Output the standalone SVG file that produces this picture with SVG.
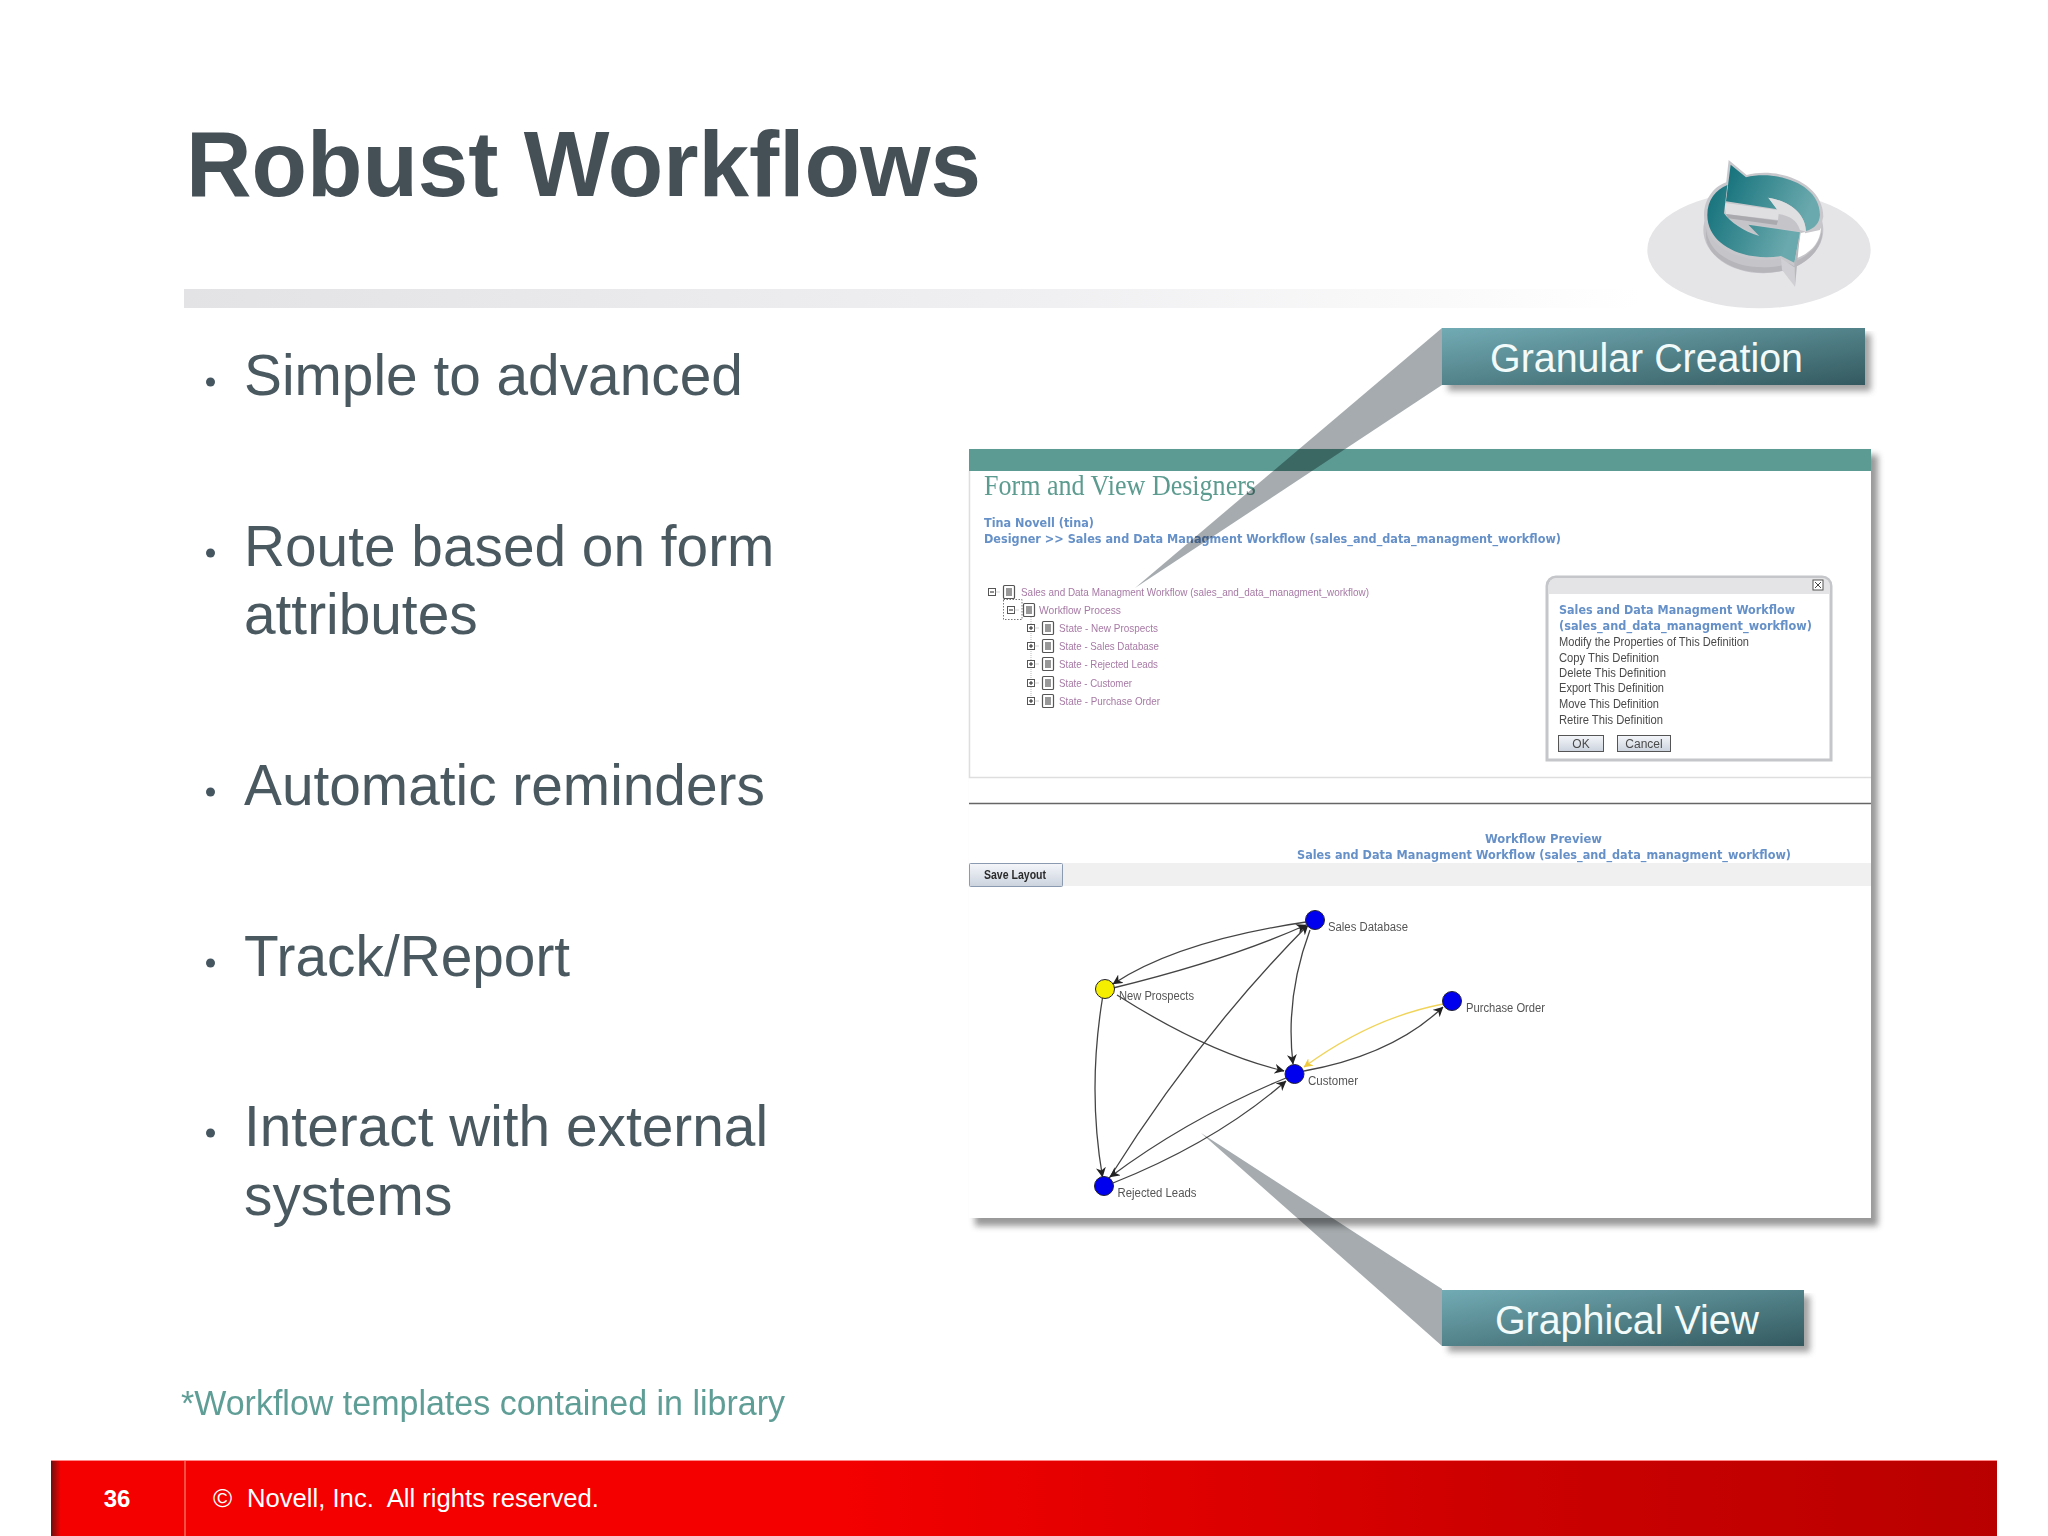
<svg xmlns="http://www.w3.org/2000/svg" width="2048" height="1536" viewBox="0 0 2048 1536">
<style>
.sans{font-family:"Liberation Sans",Arial,sans-serif}
.bul{font-family:"Liberation Sans",Arial,sans-serif;font-size:56.8px;fill:#4a5860}
.blue{font-family:"DejaVu Sans","Liberation Sans",sans-serif;font-weight:bold;font-size:12.5px;fill:#6590c8}
.tree{font-family:"Liberation Sans",sans-serif;font-size:11.5px;fill:#a77aa5}
.menu{font-family:"Liberation Sans",sans-serif;font-size:12px;fill:#4a4a4a}
.graph{font-family:"Liberation Sans",sans-serif;font-size:12px;fill:#555}
.call{font-family:"Liberation Sans",sans-serif;font-size:40px;fill:#f2fafa}
.e{fill:none;stroke:#444;stroke-width:1.3}
.ptr{fill:#a5abae;mix-blend-mode:multiply}
.node{stroke:#223;stroke-width:1}
.box{fill:#fff;stroke:#555;stroke-width:1}
.ico{fill:#fff;stroke:#555;stroke-width:1.2}
.btn{fill:url(#btnG);stroke:#555;stroke-width:1}
</style>
<defs>
<linearGradient id="tealG" x1="0" y1="0" x2="1" y2="1"><stop offset="0" stop-color="#72abb4"/><stop offset="1" stop-color="#33595f"/></linearGradient>
<linearGradient id="ruleG" x1="0" y1="0" x2="1" y2="0"><stop offset="0" stop-color="#e3e3e5"/><stop offset="0.6" stop-color="#f0f0f2"/><stop offset="1" stop-color="#fff"/></linearGradient>
<linearGradient id="footG" x1="0" y1="0" x2="1" y2="0"><stop offset="0" stop-color="#6b1010"/><stop offset="0.005" stop-color="#f40000"/><stop offset="0.4" stop-color="#f40000"/><stop offset="0.75" stop-color="#cc0000"/><stop offset="1" stop-color="#b90000"/></linearGradient>
<linearGradient id="btnG" x1="0" y1="0" x2="0" y2="1"><stop offset="0" stop-color="#f4f6fa"/><stop offset="1" stop-color="#ccd3de"/></linearGradient>
<linearGradient id="ringG" x1="0" y1="0" x2="1" y2="0.3"><stop offset="0" stop-color="#12707a"/><stop offset="1" stop-color="#6aa9ad"/></linearGradient>
<filter id="sh" x="-5%" y="-5%" width="115%" height="125%"><feGaussianBlur stdDeviation="3"/></filter>
<marker id="ar" viewBox="0 0 10 10" refX="9.5" refY="5" markerWidth="10" markerHeight="10" markerUnits="userSpaceOnUse" orient="auto"><path d="M0,0 L10,5 L0,10 L3,5 Z" fill="#222"/></marker>
<marker id="ay" viewBox="0 0 10 10" refX="9.5" refY="5" markerWidth="9" markerHeight="9" markerUnits="userSpaceOnUse" orient="auto"><path d="M0,0 L10,5 L0,10 L3,5 Z" fill="#f0c93a"/></marker>
<g id="doc"><rect class="ico" x="-5.5" y="-6.5" width="11" height="13" rx="1"/><path d="M-3,-3H3M-3,-1H3M-3,1H3M-3,3H3" stroke="#333" stroke-width="1"/></g>
<g id="plus"><rect class="box" x="-3.5" y="-3.5" width="7" height="7"/><path d="M-2,0H2M0,-2V2" stroke="#222"/><path d="M3.5,0H8" stroke="#aaa" stroke-dasharray="1 1"/></g>
<g id="minus"><rect class="box" x="-3.5" y="-3.5" width="7" height="7"/><path d="M-2,0H2" stroke="#222"/><path d="M3.5,0H8" stroke="#aaa" stroke-dasharray="1 1"/></g>
</defs>
<rect width="2048" height="1536" fill="#fff"/>

<text id="title" class="sans" x="186" y="196" font-size="92" font-weight="bold" fill="#454f56" textLength="795" lengthAdjust="spacingAndGlyphs">Robust Workflows</text>
<rect id="rule" x="184" y="289" width="1456" height="19" fill="url(#ruleG)"/>

<g id="icon" transform="translate(1620,130) scale(0.3333)">
<ellipse cx="417" cy="360" rx="335" ry="175" fill="#e5e5e8"/>
<ellipse cx="430" cy="300" rx="180" ry="130" fill="#c5c5c9"/>
<path d="M258,290 C262,370 340,412 430,412 C520,412 600,370 606,295 L606,320 C590,390 520,428 430,428 C340,428 262,380 258,320Z" fill="#b5b5ba"/>
<path d="M530,385 C570,370 600,340 603,295 L540,310Z" fill="#fff"/>
<path d="M326,90 L380,135 C480,110 610,160 610,260 L600,300 L555,310 C555,250 510,215 445,203 L475,240 L312,218Z" fill="#c8c8cc"/>
<path d="M332,104 L378,142 C470,120 600,160 600,255 C598,280 585,295 558,303 C555,250 510,215 445,203 L472,238 L318,214Z" fill="url(#ringG)"/>
<path d="M312,218 L472,240 L445,203 C510,215 556,250 558,305 L540,300 C530,270 510,258 476,252 L474,270 L318,252Z" fill="#dfdfe2"/>
<path d="M318,252 L474,272 L470,285 L325,265Z" fill="#a9a9ae"/>
<path d="M252,255 C252,205 285,165 324,155 L312,255 L345,280 L418,318 L385,282 L543,305 L525,410 L483,385 C380,405 252,360 252,255Z" fill="#c8c8cc"/>
<path d="M262,255 C262,210 288,178 322,165 L312,250 C330,275 370,305 418,318 L385,284 L540,307 L523,398 L483,378 C380,395 262,350 262,255Z" fill="url(#ringG)"/>
<path d="M483,385 L523,412 L525,470 L486,420Z" fill="#d0d0d4"/>
<path d="M523,400 L540,310 L525,470Z" fill="#b8b8bc"/>
</g>

<g id="bullets">
<g fill="#465660"><circle cx="210.5" cy="382" r="4.5"/><circle cx="210.5" cy="553" r="4.5"/><circle cx="210.5" cy="792" r="4.5"/><circle cx="210.5" cy="963" r="4.5"/><circle cx="210.5" cy="1133" r="4.5"/></g>
<text class="bul" x="244" y="395">Simple to advanced</text>
<text class="bul" x="244" y="566">Route based on form</text>
<text class="bul" x="244" y="634">attributes</text>
<text class="bul" x="244" y="805">Automatic reminders</text>
<text class="bul" x="244" y="976">Track/Report</text>
<text class="bul" x="244" y="1146">Interact with external</text>
<text class="bul" x="244" y="1215">systems</text>
</g>
<text id="footnote" class="sans" x="181" y="1415" font-size="35" fill="#5f9e96" textLength="604" lengthAdjust="spacingAndGlyphs">*Workflow templates contained in library</text>

<g id="panel">
<rect x="975" y="455" width="903" height="771" fill="#777" opacity="0.75" filter="url(#sh)"/>
<rect x="969" y="449" width="902" height="769" fill="#fff"/>
<rect x="969" y="449" width="902" height="22" fill="#5c9b93"/>
<path d="M969.5,471V777.5H1871" fill="none" stroke="#dedede" stroke-width="1.5"/>
<path d="M969,803.5H1871" stroke="#666" stroke-width="1.5"/>
<rect x="969" y="863" width="902" height="23" fill="#f0f0f0"/>
<text x="984" y="495" font-family="Liberation Serif,serif" font-size="30" fill="#5c9b8f" textLength="272" lengthAdjust="spacingAndGlyphs">Form and View Designers</text>
<text class="blue" x="984" y="526.5" textLength="110" lengthAdjust="spacingAndGlyphs">Tina Novell (tina)</text>
<text class="blue" x="984" y="543" textLength="577" lengthAdjust="spacingAndGlyphs">Designer &gt;&gt;  Sales and Data Managment Workflow (sales_and_data_managment_workflow)</text>
</g>

<g id="tree">
<use href="#minus" x="992" y="592"/><use href="#doc" x="1009" y="592"/>
<text class="tree" x="1021" y="595.5" textLength="348" lengthAdjust="spacingAndGlyphs">Sales and Data Managment Workflow (sales_and_data_managment_workflow)</text>
<rect x="1003.5" y="599.5" width="18.5" height="20" fill="none" stroke="#777" stroke-dasharray="1.5 1.5"/>
<use href="#minus" x="1011" y="610"/><use href="#doc" x="1029" y="610"/>
<text class="tree" x="1039" y="614" textLength="82" lengthAdjust="spacingAndGlyphs">Workflow Process</text>
<path d="M1031,617V701" stroke="#bbb" stroke-dasharray="1 1"/>
<use href="#plus" x="1031" y="628"/><use href="#doc" x="1048" y="628"/>
<text class="tree" x="1059" y="632" textLength="99" lengthAdjust="spacingAndGlyphs">State - New Prospects</text>
<use href="#plus" x="1031" y="646"/><use href="#doc" x="1048" y="646"/>
<text class="tree" x="1059" y="650" textLength="100" lengthAdjust="spacingAndGlyphs">State - Sales Database</text>
<use href="#plus" x="1031" y="664"/><use href="#doc" x="1048" y="664"/>
<text class="tree" x="1059" y="668" textLength="99" lengthAdjust="spacingAndGlyphs">State - Rejected Leads</text>
<use href="#plus" x="1031" y="683"/><use href="#doc" x="1048" y="683"/>
<text class="tree" x="1059" y="687" textLength="73" lengthAdjust="spacingAndGlyphs">State - Customer</text>
<use href="#plus" x="1031" y="701"/><use href="#doc" x="1048" y="701"/>
<text class="tree" x="1059" y="705" textLength="101" lengthAdjust="spacingAndGlyphs">State - Purchase Order</text>
</g>

<g id="dialog">
<path d="M1547,760V586a9,9 0 0 1 9,-9H1822a9,9 0 0 1 9,9V760Z" fill="#fff" stroke="#c4c6c9" stroke-width="3"/>
<path d="M1548.5,594V586a8,8 0 0 1 8,-8H1822a8,8 0 0 1 8,8V594Z" fill="#e4e4e6"/>
<rect class="box" x="1813" y="580" width="10" height="10" stroke="#666" fill="#e8e8e8"/><path d="M1815,582L1821,588M1821,582L1815,588" stroke="#444"/>
<text class="blue" x="1559" y="613.5" textLength="236" lengthAdjust="spacingAndGlyphs">Sales and Data Managment Workflow</text>
<text class="blue" x="1559" y="630" textLength="253" lengthAdjust="spacingAndGlyphs">(sales_and_data_managment_workflow)</text>
<text class="menu" x="1559" y="645.5" textLength="190" lengthAdjust="spacingAndGlyphs">Modify the Properties of This Definition</text>
<text class="menu" x="1559" y="661.5" textLength="100" lengthAdjust="spacingAndGlyphs">Copy This Definition</text>
<text class="menu" x="1559" y="676.5" textLength="107" lengthAdjust="spacingAndGlyphs">Delete This Definition</text>
<text class="menu" x="1559" y="692" textLength="105" lengthAdjust="spacingAndGlyphs">Export This Definition</text>
<text class="menu" x="1559" y="707.5" textLength="100" lengthAdjust="spacingAndGlyphs">Move This Definition</text>
<text class="menu" x="1559" y="723.5" textLength="104" lengthAdjust="spacingAndGlyphs">Retire This Definition</text>
<rect class="btn" x="1558.5" y="735.5" width="45" height="16"/>
<text class="menu" x="1581" y="748" text-anchor="middle">OK</text>
<rect class="btn" x="1617.5" y="735.5" width="53" height="16"/>
<text class="menu" x="1644" y="748" text-anchor="middle">Cancel</text>
</g>

<g id="preview">
<text class="blue" x="1485" y="843" textLength="117" lengthAdjust="spacingAndGlyphs">Workflow Preview</text>
<text class="blue" x="1297" y="859" textLength="494" lengthAdjust="spacingAndGlyphs">Sales and Data Managment Workflow (sales_and_data_managment_workflow)</text>
<rect x="969.5" y="863.5" width="93" height="23" rx="1" fill="url(#btnG)" stroke="#8a9ab0"/>
<text class="sans" x="984" y="879" font-size="12.5" font-weight="bold" fill="#2a2a2a" textLength="62" lengthAdjust="spacingAndGlyphs">Save Layout</text>
</g>

<g id="connectors">
<path class="e" d="M1306,922Q1178,941 1113,984" marker-end="url(#ar)"/>
<path class="e" d="M1113,988Q1228,960 1306,925" marker-end="url(#ar)"/>
<path class="e" d="M1110,1177Q1199,1035 1308,925" marker-start="url(#ar)" marker-end="url(#ar)"/>
<path class="e" d="M1310,930Q1285,997 1293,1064" marker-end="url(#ar)"/>
<path class="e" d="M1117,995Q1208,1053 1284,1071" marker-end="url(#ar)"/>
<path class="e" d="M1102.5,998Q1087.5,1090 1102.5,1177" marker-end="url(#ar)"/>
<path class="e" d="M1286,1078Q1189,1118 1110,1177" marker-end="url(#ar)"/>
<path class="e" d="M1113,1183Q1216,1142 1286,1081" marker-end="url(#ar)"/>
<path class="e" d="M1304,1071Q1393,1055 1443,1007" marker-end="url(#ar)"/>
<path d="M1443,1004Q1371,1018 1304,1067" fill="none" stroke="#f0d45a" stroke-width="1.3" marker-end="url(#ay)"/>
</g>

<g id="n-sales"><circle class="node" cx="1315" cy="920" r="9.5" fill="#0000ee"/><text class="graph" x="1328" y="931" textLength="80" lengthAdjust="spacingAndGlyphs">Sales Database</text></g>
<g id="n-new"><circle class="node" cx="1105" cy="989" r="9.5" fill="#f5ee00"/><text class="graph" x="1119" y="1000" textLength="75" lengthAdjust="spacingAndGlyphs">New Prospects</text></g>
<g id="n-customer"><circle class="node" cx="1294.5" cy="1074" r="9.5" fill="#0000ee"/><text class="graph" x="1308" y="1085" textLength="50" lengthAdjust="spacingAndGlyphs">Customer</text></g>
<g id="n-purchase"><circle class="node" cx="1452" cy="1001" r="9.5" fill="#0000ee"/><text class="graph" x="1466" y="1012" textLength="79" lengthAdjust="spacingAndGlyphs">Purchase Order</text></g>
<g id="n-rejected"><circle class="node" cx="1104" cy="1186" r="9.5" fill="#0000ee"/><text class="graph" x="1117.5" y="1197" textLength="79" lengthAdjust="spacingAndGlyphs">Rejected Leads</text></g>

<g id="callout1">
<polygon class="ptr" points="1442,328 1442,385 1135,588"/>
<rect x="1448" y="334" width="423" height="57" fill="#666" opacity="0.6" filter="url(#sh)"/>
<rect x="1442" y="328" width="423" height="57" fill="url(#tealG)"/>
<text class="call" x="1490" y="372" textLength="313" lengthAdjust="spacingAndGlyphs">Granular Creation</text>
</g>
<g id="callout2">
<polygon class="ptr" points="1442,1289 1442,1346 1201,1133"/>
<rect x="1448" y="1296" width="362" height="56" fill="#666" opacity="0.6" filter="url(#sh)"/>
<rect x="1442" y="1290" width="362" height="56" fill="url(#tealG)"/>
<text class="call" x="1495" y="1334" textLength="264" lengthAdjust="spacingAndGlyphs">Graphical View</text>
</g>

<g id="footer">
<rect x="51" y="1460" width="1946" height="76" fill="url(#footG)"/>
<path d="M51,1460.5H1997" stroke="#f88" stroke-width="1"/>
<path d="M185,1461V1536" stroke="#ee6a5a" stroke-width="1.5"/>
<text class="sans" x="117" y="1507" font-size="24" font-weight="bold" fill="#fff" text-anchor="middle">36</text>
<text class="sans" x="213" y="1507" font-size="26" fill="#fff">©</text>
<text class="sans" x="247" y="1507" font-size="26" fill="#fff" xml:space="preserve" textLength="352" lengthAdjust="spacingAndGlyphs">Novell, Inc.  All rights reserved.</text>
</g>
</svg>
